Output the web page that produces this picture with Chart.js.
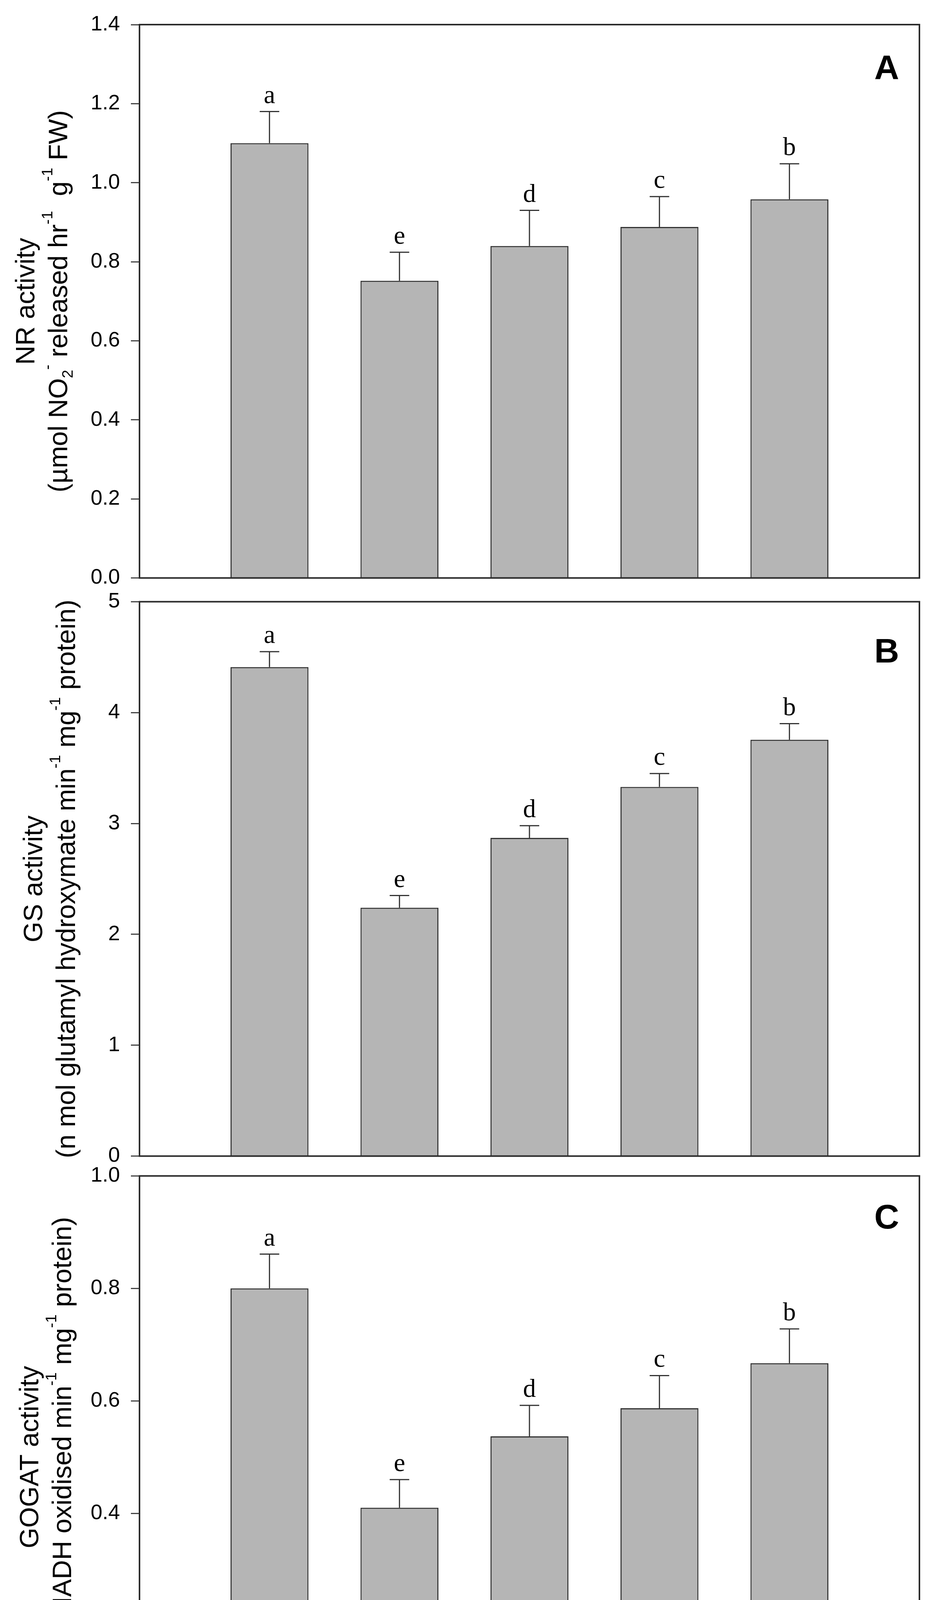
<!DOCTYPE html>
<html>
<head>
<meta charset="utf-8">
<script src="https://cdn.jsdelivr.net/npm/chart.js@4.4.1/dist/chart.umd.min.js"></script>
<style>
  body { margin: 0; background: #fff; width: 2398px; height: 4934px; position: relative; overflow: hidden; }
  canvas { position: absolute; left: 0; }
</style>
</head>
<body>
<canvas id="nrChart" width="2398" height="1540" style="top:0px"></canvas>
<canvas id="gsChart" width="2398" height="1540" style="top:1480px"></canvas>
<canvas id="gogatChart" width="2398" height="1984" style="top:2950px"></canvas>
<script>
// treatments, plotted at x = 1..5 on a 0..6 axis
const categories = ["Control", "PEG", "PEG + NO", "PEG + S", "PEG + NO + S"];
const letters = ["a", "e", "d", "c", "b"];

// A: NR activity
const nrMeans = [1.10, 0.752, 0.84, 0.888, 0.958];
const nrErrors = [0.08, 0.072, 0.09, 0.077, 0.09];
const nrTicks = { max: 1.4, step: 0.2, decimals: 1 };

// B: GS activity
const gsMeans = [4.41, 2.24, 2.87, 3.33, 3.755];
const gsErrors = [0.14, 0.11, 0.11, 0.12, 0.145];
const gsTicks = { max: 5, step: 1, decimals: 0 };

// C: GOGAT activity
const gogatMeans = [0.80, 0.41, 0.537, 0.587, 0.667];
const gogatErrors = [0.061, 0.05, 0.055, 0.058, 0.061];
const gogatTicks = { max: 1.0, step: 0.2, decimals: 1 };

// axis titles (two lines, second one with super/subscripts)
const nrTitle1 = [{ t: "NR activity" }];
const nrTitle2 = [{ t: "(µmol NO" }, { t: "2", sub: true }, { t: "-", sup: true }, { t: " released hr" }, { t: "-1", sup: true }, { t: "  g" }, { t: "-1", sup: true }, { t: " FW)" }];
const gsTitle1 = [{ t: "GS activity" }];
const gsTitle2 = [{ t: "(n mol glutamyl hydroxymate min" }, { t: "-1", sup: true }, { t: " mg" }, { t: "-1", sup: true }, { t: " protein)" }];
const gogatTitle1 = [{ t: "GOGAT activity" }];
const gogatTitle2 = [{ t: "(n mol NADH oxidised min" }, { t: "-1", sup: true }, { t: " mg" }, { t: "-1", sup: true }, { t: " protein)" }];

const SANS = '"Liberation Sans", Arial, sans-serif';
const SERIF = '"Liberation Serif", "Times New Roman", serif';
Chart.defaults.font.family = SANS;
Chart.defaults.color = "#000";

function drawRich(ctx, segs, bx, cy, size) {
  ctx.save();
  ctx.translate(bx, cy);
  ctx.rotate(-Math.PI / 2);
  ctx.textAlign = "left";
  ctx.textBaseline = "alphabetic";
  ctx.fillStyle = "#000";
  const small = Math.round(size * 0.58);
  const fontOf = (s) => (s.sup || s.sub ? small : size) + "px " + SANS;
  let total = 0;
  segs.forEach((s) => { ctx.font = fontOf(s); total += ctx.measureText(s.t).width; });
  let x = -total / 2;
  segs.forEach((s) => {
    ctx.font = fontOf(s);
    const dy = s.sup ? -size * 0.56 : s.sub ? size * 0.2 : 0;
    ctx.fillText(s.t, x, dy);
    x += ctx.measureText(s.t).width;
  });
  ctx.restore();
}

const panelPlugin = {
  id: "panel",
  afterDatasetsDraw(chart, args, opts) {
    const { ctx, chartArea: a, scales: { x, y } } = chart;
    ctx.save();
    // error bars (upper only) + significance letters
    opts.means.forEach((m, i) => {
      const px = x.getPixelForValue(i + 1);
      const y0 = y.getPixelForValue(m);
      const y1 = y.getPixelForValue(m + opts.errors[i]);
      ctx.strokeStyle = "#333";
      ctx.lineWidth = 3;
      ctx.beginPath();
      ctx.moveTo(px, y0);
      ctx.lineTo(px, y1);
      ctx.moveTo(px - 25, y1);
      ctx.lineTo(px + 25, y1);
      ctx.stroke();
      ctx.fillStyle = "#000";
      ctx.font = "66px " + SERIF;
      ctx.textAlign = "center";
      ctx.textBaseline = "alphabetic";
      ctx.fillText(letters[i], px, y1 - 22);
    });
    // frame
    ctx.strokeStyle = "#2b2b2b";
    ctx.lineWidth = 4;
    ctx.strokeRect(a.left, a.top, a.right - a.left, a.bottom - a.top);
    // panel tag
    ctx.fillStyle = "#000";
    ctx.font = "bold 88px " + SANS;
    ctx.textAlign = "right";
    ctx.fillText(opts.tag, a.right - 52, a.top + opts.tagDy);
    // y title
    const cy = (a.top + a.bottom) / 2;
    drawRich(ctx, opts.title1, opts.titleX, cy, 68);
    drawRich(ctx, opts.title2, opts.titleX + 84, cy, 68);
    ctx.restore();
  }
};

function makePanel(id, means, errors, ticks, cfg) {
  const fmt = (v) => Number(v).toFixed(ticks.decimals);
  const showX = !!cfg.showX;
  return new Chart(document.getElementById(id), {
    type: "bar",
    data: {
      datasets: [{
        data: means.map((v, i) => ({ x: i + 1, y: v })),
        backgroundColor: "#b5b5b5",
        borderColor: "#333",
        borderWidth: 3,
        categoryPercentage: 1,
        barPercentage: 0.6
      }]
    },
    options: {
      responsive: false,
      animation: false,
      devicePixelRatio: 1,
      layout: { padding: { top: cfg.padTop, bottom: cfg.padBottom, left: 0, right: 45 } },
      plugins: {
        legend: { display: false },
        tooltip: { enabled: false },
        panel: { means, errors, tag: cfg.tag, tagDy: cfg.tagDy, title1: cfg.title1, title2: cfg.title2, titleX: cfg.titleX }
      },
      scales: {
        x: {
          type: "linear",
          min: 0,
          max: 6,
          offset: false,
          display: showX,
          afterFit: (s) => {
            s.height = cfg.xHeight || 0;
            s.paddingLeft = 0;
            s.paddingRight = 0;
          },
          border: { display: false },
          grid: {
            offset: false,
            drawOnChartArea: false,
            drawTicks: true,
            tickLength: 20,
            lineWidth: 3,
            color: (c) => (c.tick && c.tick.value >= 1 && c.tick.value <= 5 ? "#333" : "rgba(0,0,0,0)")
          },
          ticks: {
            stepSize: 1,
            autoSkip: false,
            minRotation: 59,
            maxRotation: 59,
            padding: 6,
            font: { size: 66, style: "italic" },
            callback: (v) => categories[v - 1] || ""
          }
        },
        y: {
          min: 0,
          max: ticks.max,
          afterFit: (s) => { s.width = 357; },
          border: { display: false },
          grid: { drawOnChartArea: false, drawTicks: true, tickLength: 22, lineWidth: 3, color: "#444" },
          ticks: { stepSize: ticks.step, padding: 28, font: { size: 54 }, callback: fmt }
        }
      }
    },
    plugins: [panelPlugin]
  });
}

makePanel("nrChart", nrMeans, nrErrors, nrTicks, {
  padTop: 63, padBottom: 43, tag: "A", tagDy: 139, title1: nrTitle1, title2: nrTitle2, titleX: 88
});
makePanel("gsChart", gsMeans, gsErrors, gsTicks, {
  padTop: 52, padBottom: 49, tag: "B", tagDy: 156, title1: gsTitle1, title2: gsTitle2, titleX: 108
});
makePanel("gogatChart", gogatMeans, gogatErrors, gogatTicks, {
  padTop: 56, padBottom: 0, tag: "C", tagDy: 135, title1: gogatTitle1, title2: gogatTitle2, titleX: 98,
  showX: true, xHeight: 484
});
</script>
</body>
</html>
